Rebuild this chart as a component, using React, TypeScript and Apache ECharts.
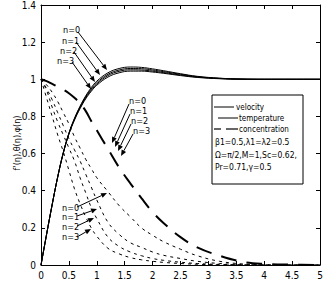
import React, { useEffect, useRef } from "react";
import * as echarts from "echarts";

const eta = [0, 0.1, 0.2, 0.3, 0.4, 0.5, 0.6, 0.7, 0.8, 0.9, 1.0, 1.2, 1.4, 1.6, 1.8, 2.0, 2.2, 2.5, 2.8, 3.2, 3.6, 4.0, 4.5, 5.0];

const velocityN0 = [0, 0.165, 0.325, 0.475, 0.605, 0.71, 0.79, 0.855, 0.91, 0.955, 0.99, 1.035, 1.058, 1.066, 1.064, 1.056, 1.046, 1.03, 1.016, 1.006, 1.001, 1.0, 1.0, 1.0];
const velocityN1 = [0, 0.165, 0.325, 0.475, 0.605, 0.708, 0.787, 0.851, 0.905, 0.948, 0.982, 1.027, 1.05, 1.058, 1.057, 1.05, 1.041, 1.027, 1.014, 1.005, 1.001, 1.0, 1.0, 1.0];
const velocityN2 = [0, 0.165, 0.325, 0.475, 0.604, 0.706, 0.784, 0.847, 0.9, 0.941, 0.975, 1.02, 1.043, 1.051, 1.05, 1.044, 1.036, 1.023, 1.012, 1.004, 1.001, 1.0, 1.0, 1.0];
const velocityN3 = [0, 0.165, 0.325, 0.475, 0.603, 0.704, 0.78, 0.842, 0.894, 0.935, 0.968, 1.012, 1.035, 1.044, 1.044, 1.039, 1.032, 1.02, 1.01, 1.003, 1.0, 1.0, 1.0, 1.0];

const concentration = [1, 0.99, 0.975, 0.96, 0.945, 0.925, 0.9, 0.87, 0.83, 0.775, 0.725, 0.625, 0.525, 0.44, 0.36, 0.285, 0.225, 0.15, 0.095, 0.05, 0.018, 0.006, 0.002, 0];

const dottedN0 = [1, 0.97, 0.93, 0.88, 0.82, 0.76, 0.69, 0.63, 0.57, 0.52, 0.47, 0.395, 0.32, 0.26, 0.2, 0.16, 0.125, 0.085, 0.05, 0.02, 0.006, 0.001, 0, 0];
const dottedN1 = [1, 0.95, 0.89, 0.82, 0.75, 0.68, 0.62, 0.56, 0.49, 0.42, 0.35, 0.23, 0.165, 0.12, 0.095, 0.07, 0.052, 0.035, 0.02, 0.008, 0.002, 0, 0, 0];
const dottedN2 = [1, 0.94, 0.85, 0.77, 0.7, 0.63, 0.56, 0.47, 0.39, 0.31, 0.25, 0.15, 0.1, 0.07, 0.05, 0.035, 0.025, 0.015, 0.008, 0.003, 0.001, 0, 0, 0];
const dottedN3 = [1, 0.9, 0.8, 0.7, 0.61, 0.51, 0.41, 0.33, 0.26, 0.2, 0.155, 0.09, 0.06, 0.04, 0.028, 0.02, 0.014, 0.008, 0.004, 0.001, 0, 0, 0, 0];

const legendNames = ["velocity", "temperature", "concentration"];
const paramLines = ["\u03b21=0.5,\u03bb1=\u03bb2=0.5", "\u03a9=\u03c0/2,M=1,Sc=0.62,", "Pr=0.71,\u03b3=0.5"];
const nLabels = ["n=0", "n=1", "n=2", "n=3"];

const FONT = "'Liberation Sans Narrow', 'DejaVu Sans Condensed', 'Liberation Sans', sans-serif";

function pairs(vals: number[]) {
  return eta.map((x, i) => [x, vals[i]]);
}

function arrow(x1: number, y1: number, x2: number, y2: number) {
  const ang = Math.atan2(y2 - y1, x2 - x1);
  const L = 6, W = 2.5;
  const bx = x2 - L * Math.cos(ang), by = y2 - L * Math.sin(ang);
  const px = -Math.sin(ang) * W, py = Math.cos(ang) * W;
  return [
    { type: "line", shape: { x1, y1, x2: bx, y2: by }, style: { stroke: "#000", lineWidth: 1 }, silent: true },
    { type: "polygon", shape: { points: [[x2, y2], [bx + px, by + py], [bx - px, by - py]] }, style: { fill: "#000" }, silent: true },
  ];
}

export default function App() {
  const ref = useRef<HTMLDivElement>(null);
  useEffect(() => {
    if (!ref.current) return;
    const chart = echarts.init(ref.current, null, { renderer: "svg" });
    const solid = (name: string, vals: number[]) => ({
      name, type: "line", data: pairs(vals), showSymbol: false, smooth: 0.4,
      lineStyle: { color: "#000", width: 1 }, xAxisIndex: 0, yAxisIndex: 0,
    });
    const dotted = (name: string, vals: number[]) => ({
      name, type: "line", data: pairs(vals), showSymbol: false, smooth: 0.4,
      lineStyle: { color: "#000", width: 1, type: [3, 4] }, xAxisIndex: 0, yAxisIndex: 0,
    });
    const axisCommon = {
      type: "value",
      axisLine: { show: true, onZero: false, lineStyle: { color: "#000", width: 1 } },
      axisTick: { show: true, inside: true, length: 4, lineStyle: { color: "#000" } },
      splitLine: { show: false },
    };
    const label = { color: "#000", fontSize: 10, fontFamily: FONT };

    const graphics: any[] = [];
    // y axis title
    graphics.push({
      type: "text", x: 17, y: 143, rotation: Math.PI / 2,
      style: { text: "f'(\u03b7),\u03b8(\u03b7),\u03c6(\u03b7)", fill: "#000", font: `9px ${FONT}`, align: "center", verticalAlign: "middle" },
    });
    // top annotations (velocity)
    const topLab = [[63, 30], [62, 41], [60, 51], [57, 61]];
    const topArr = [[78, 32, 107, 70], [76, 42, 100, 75], [74, 52, 95, 82], [72, 62, 91, 89]];
    // middle annotations (concentration)
    const midLab = [[129, 101], [130, 111], [131, 121], [133, 131]];
    const midArr = [[129, 104, 112, 143], [130, 114, 115, 147], [131, 124, 118, 151], [133, 134, 121, 156]];
    // bottom annotations
    const botLab = [[62, 208], [62, 217], [62, 227], [62, 237]];
    const botArr = [[77, 207, 107, 193], [77, 216, 97, 209], [77, 226, 94, 218], [77, 237, 91, 229]];
    [[topLab, topArr], [midLab, midArr], [botLab, botArr]].forEach(([labs, arrs]) => {
      labs.forEach((p: number[], i: number) => {
        graphics.push({
          type: "text", x: p[0], y: p[1],
          style: { text: nLabels[i], fill: "#000", font: `9px ${FONT}`, align: "left", verticalAlign: "middle" },
        });
        const a = arrs[i] as number[];
        graphics.push(...arrow(a[0], a[1], a[2], a[3]));
      });
    });
    // legend box
    graphics.push({ type: "rect", shape: { x: 212, y: 95, width: 91, height: 89 }, style: { fill: "#fff", stroke: "#000", lineWidth: 1 }, z: 10 });
    const legY = [107, 118, 129];
    graphics.push({ type: "line", shape: { x1: 214, y1: legY[0], x2: 234, y2: legY[0] }, style: { stroke: "#000", lineWidth: 1 }, z: 11 });
    graphics.push({ type: "line", shape: { x1: 218, y1: legY[1], x2: 238, y2: legY[1] }, style: { stroke: "#000", lineWidth: 1 }, z: 11 });
    graphics.push({ type: "line", shape: { x1: 214, y1: legY[2], x2: 221, y2: legY[2] }, style: { stroke: "#000", lineWidth: 1.2 }, z: 11 });
    graphics.push({ type: "line", shape: { x1: 226, y1: legY[2], x2: 238, y2: legY[2] }, style: { stroke: "#000", lineWidth: 1.2 }, z: 11 });
    const legX = [236, 239, 239];
    legendNames.forEach((n, i) => {
      graphics.push({ type: "text", x: legX[i], y: legY[i], z: 11, style: { text: n, fill: "#000", font: `8px ${FONT}`, align: "left", verticalAlign: "middle" } });
    });
    const parY = [142, 155, 167];
    paramLines.forEach((t, i) => {
      graphics.push({ type: "text", x: 215, y: parY[i], z: 11, style: { text: t, fill: "#000", font: `8.5px ${FONT}`, align: "left", verticalAlign: "middle" } });
    });

    chart.setOption({
      animation: false,
      backgroundColor: "#fff",
      grid: { left: 41, right: 11, top: 4, bottom: 21, containLabel: false },
      xAxis: [
        { ...axisCommon, position: "bottom", min: 0, max: 5, interval: 0.5, axisLabel: { ...label, margin: 5 } },
        { ...axisCommon, position: "top", min: 0, max: 5, interval: 0.5, axisLabel: { show: false } },
      ],
      yAxis: [
        { ...axisCommon, position: "left", min: 0, max: 1.4, interval: 0.2, axisLabel: { ...label, margin: 5 } },
        { ...axisCommon, position: "right", min: 0, max: 1.4, interval: 0.2, axisLabel: { show: false } },
      ],
      series: [
        solid("velocity n=0", velocityN0),
        solid("velocity n=1", velocityN1),
        solid("velocity n=2", velocityN2),
        solid("velocity n=3", velocityN3),
        {
          name: "concentration", type: "line", data: pairs(concentration), showSymbol: false, smooth: 0.4,
          lineStyle: { color: "#000", width: 2, type: [16, 10] },
        },
        dotted("dotted n=0", dottedN0),
        dotted("dotted n=1", dottedN1),
        dotted("dotted n=2", dottedN2),
        dotted("dotted n=3", dottedN3),
      ],
      graphic: graphics,
    });
    return () => chart.dispose();
  }, []);
  return <div ref={ref} style={{ position: "fixed", left: 0, top: 0, width: 331, height: 286, background: "#fff" }} />;
}
